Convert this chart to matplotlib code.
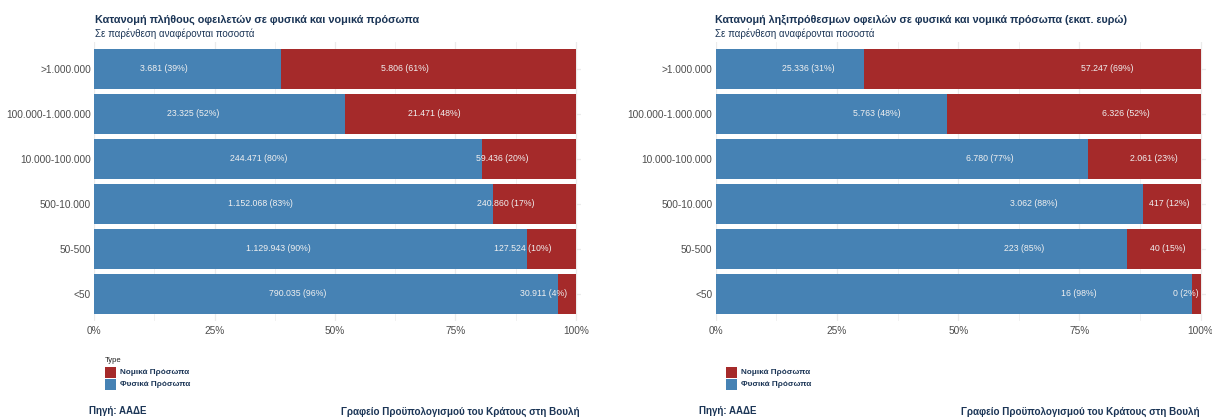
import matplotlib
matplotlib.use("Agg")
import matplotlib.pyplot as plt
from matplotlib.patches import Rectangle
import numpy as np

plt.rcParams['font.family'] = ['Liberation Sans', 'DejaVu Sans']

# Debt brackets (top to bottom)
categories = [">1.000.000", "100.000-1.000.000", "10.000-100.000",
              "500-10.000", "50-500", "<50"]

# Number of debtors
debtors_natural = [3681, 23325, 244471, 1152068, 1129943, 790035]
debtors_legal = [5806, 21471, 59436, 240860, 127524, 30911]

# Overdue debts (million euro)
debt_natural = [25336, 5763, 6780, 3062, 223, 16]
debt_legal = [57247, 6326, 2061, 417, 40, 0.3]

series_names = ["Νομικά Πρόσωπα", "Φυσικά Πρόσωπα"]
series_colors = ["#A52A2A", "#4682B4"]
tick_values = [0, 0.25, 0.5, 0.75, 1.0]
tick_labels = ["0%", "25%", "50%", "75%", "100%"]

NAVY = "#1b3556"
GREY = "#4d4d4d"
GRID = "#ebebeb"

W, H = 1212, 418
fig = plt.figure(figsize=(W / 100, H / 100), dpi=100)


def px_axes(x0, x1, y0, y1):
    return fig.add_axes([x0 / W, 1 - y1 / H, (x1 - x0) / W, (y1 - y0) / H])


def fmt_num(v):
    return f"{v:,.0f}".replace(",", ".")


def draw_panel(ax, natural, legal, label_frac):
    natural = np.asarray(natural, float)
    legal = np.asarray(legal, float)
    total = natural + legal
    sn = natural / total
    sl = legal / total
    ypos = np.arange(len(categories))

    # grid (theme_minimal style)
    for t in np.arange(0, 1.001, 0.125):
        ax.axvline(t, color=GRID, lw=0.9 if t in tick_values else 0.5, zorder=0)
    for y in ypos:
        ax.axhline(y, color=GRID, lw=0.9, zorder=0)

    ax.barh(ypos, sn, height=0.9, color=series_colors[1], zorder=2,
            edgecolor="none")
    ax.barh(ypos, sl, left=sn, height=0.9, color=series_colors[0], zorder=2,
            edgecolor="none")

    for i in range(len(categories)):
        ax.text(sn[i] * label_frac, ypos[i],
                f"{fmt_num(natural[i])} ({sn[i] * 100:.0f}%)",
                ha="right", va="center", color="#f0f0f0", fontsize=6.3,
                zorder=3)
        ax.text(sn[i] + sl[i] * label_frac, ypos[i],
                f"{fmt_num(legal[i])} ({sl[i] * 100:.0f}%)",
                ha="right", va="center", color="#f0f0f0", fontsize=6.3,
                zorder=3)

    ax.set_xlim(0, 1.01)
    ax.set_ylim(len(categories) - 0.4, -0.6)
    ax.set_yticks(ypos)
    ax.set_yticklabels(categories)
    ax.set_xticks(tick_values)
    ax.set_xticklabels(tick_labels)
    ax.tick_params(axis="both", length=0, labelsize=7.3, colors=GREY)
    ax.tick_params(axis="y", pad=2.3)
    ax.tick_params(axis="x", pad=3.5)
    for s in ax.spines.values():
        s.set_visible(False)
    ax.set_facecolor("white")


ax1 = px_axes(94, 94 + 482 * 1.01, 42, 321)
draw_panel(ax1, debtors_natural, debtors_legal, 0.5)

ax2 = px_axes(715.7, 715.7 + 485 * 1.01, 42, 321)
draw_panel(ax2, debt_natural, debt_legal, 0.8)


def ftext(x, y, s, **kw):
    fig.text(x / W, 1 - y / H, s, **kw)


# titles
ftext(95, 19.5, "Κατανομή πλήθους οφειλετών σε φυσικά και νομικά πρόσωπα",
      fontsize=7.85, fontweight="bold", color=NAVY, va="center")
ftext(95, 34, "Σε παρένθεση αναφέρονται ποσοστά",
      fontsize=7, color=NAVY, va="center")
ftext(715, 19.5,
      "Κατανομή ληξιπρόθεσμων οφειλών σε φυσικά και νομικά πρόσωπα (εκατ. ευρώ)",
      fontsize=7.75, fontweight="bold", color=NAVY, va="center")
ftext(715, 34, "Σε παρένθεση αναφέρονται ποσοστά",
      fontsize=7, color=NAVY, va="center")


# legends
def legend(x, title=None):
    if title:
        ftext(x, 360.5, title, fontsize=5.5, color="#222222", va="center")
    for k, (name, col) in enumerate(zip(series_names, series_colors)):
        y0 = 367 + k * 11.5
        fig.add_artist(Rectangle((x / W, 1 - (y0 + 11) / H), 11 / W, 11 / H,
                                 transform=fig.transFigure, color=col,
                                 lw=0))
        ftext(x + 15.5, y0 + 6, name, fontsize=5.85, fontweight="bold",
              color=NAVY, va="center")


legend(105, "Type")
legend(726)

# footers
ftext(89, 411.5, "Πηγή: ΑΑΔΕ", fontsize=7.05, fontweight="bold",
      color=NAVY, va="center")
ftext(580, 411.5, "Γραφείο Προϋπολογισμού του Κράτους στη Βουλή",
      fontsize=7.1, fontweight="bold", color=NAVY, va="center", ha="right")
ftext(699, 411.5, "Πηγή: ΑΑΔΕ", fontsize=7.05, fontweight="bold",
      color=NAVY, va="center")
ftext(1200, 411.5, "Γραφείο Προϋπολογισμού του Κράτους στη Βουλή",
      fontsize=7.1, fontweight="bold", color=NAVY, va="center", ha="right")

fig.savefig("out.png", dpi=100, facecolor="white")
